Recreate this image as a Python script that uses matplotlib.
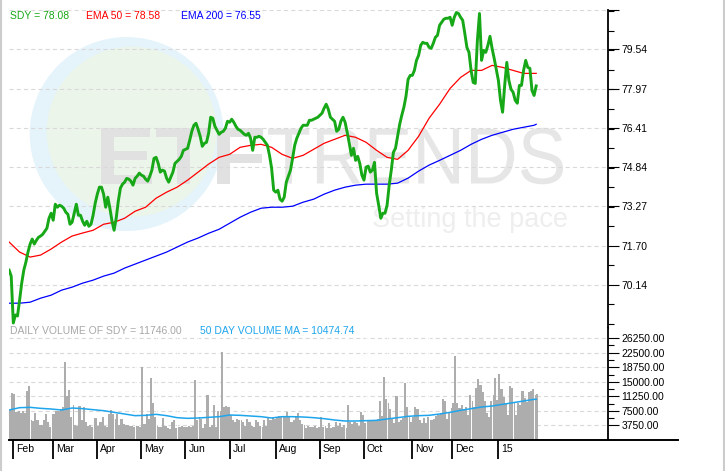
import numpy as np
import pandas as pd
import matplotlib
matplotlib.use('Agg')
import matplotlib.pyplot as plt
import matplotlib.transforms as mtransforms
from matplotlib.patches import Circle, PathPatch
from matplotlib.lines import Line2D
from matplotlib.textpath import TextPath
from matplotlib.font_manager import FontProperties
from matplotlib.ticker import AutoMinorLocator, FixedLocator

plt.rcParams['font.family'] = ['Liberation Sans', 'DejaVu Sans']
plt.rcParams['lines.scale_dashes'] = False

# trading days Jan 30 2014 .. Jan 29 2015
holidays = ['2014-02-17', '2014-04-18', '2014-05-26', '2014-07-04', '2014-09-01',
            '2014-11-27', '2014-12-25', '2015-01-01', '2015-01-19']
dates = pd.bdate_range('2014-01-30', '2015-01-29', freq='C', holidays=holidays)

sdy_close = [
    70.73, 70.49, 68.62, 68.94, 68.90, 69.53, 70.21, 70.73, 71.05, 71.45,
    71.77, 71.97, 71.77, 71.92, 72.04, 72.09, 72.16, 72.28, 72.40, 72.80,
    73.00, 72.72, 73.36, 73.24, 73.32, 73.28, 73.20, 73.04, 72.96, 72.56,
    72.64, 73.00, 73.36, 72.92, 72.92, 72.68, 72.52, 72.68, 72.48, 72.56,
    72.92, 73.40, 73.76, 74.04, 74.04, 73.76, 73.24, 73.64, 73.20, 72.68,
    72.32, 72.80, 73.48, 74.00, 74.16, 74.24, 74.39, 74.36, 74.28, 74.12,
    74.39, 74.48, 74.60, 74.52, 74.48, 74.36, 74.28, 74.48, 74.72, 75.19,
    75.23, 74.99, 74.64, 74.72, 74.68, 74.40, 74.24, 74.44, 74.64, 74.99,
    75.07, 75.15, 75.27, 75.51, 75.55, 75.59, 75.91, 76.27, 76.51, 76.59,
    76.35, 76.07, 75.67, 75.79, 75.83, 76.19, 76.83, 76.79, 76.47, 76.31,
    76.15, 76.23, 76.27, 76.39, 76.67, 76.63, 76.75, 76.63, 76.47, 76.35,
    76.31, 76.23, 76.15, 76.11, 76.19, 75.99, 75.51, 76.03, 76.03, 76.07,
    76.03, 75.95, 75.83, 75.71, 75.31, 74.80, 73.92, 73.84, 73.92, 73.56,
    73.48, 73.64, 74.24, 74.48, 74.72, 75.19, 75.71, 75.99, 76.19, 76.39,
    76.51, 76.51, 76.51, 76.71, 76.71, 76.75, 76.79, 76.83, 76.91, 76.99,
    77.19, 77.35, 77.15, 76.83, 76.75, 76.67, 76.27, 76.35, 76.67, 76.83,
    76.63, 76.23, 75.79, 75.31, 75.59, 75.11, 75.27, 74.99, 74.52, 74.32,
    74.84, 74.88, 74.64, 74.72, 75.03, 73.80, 73.32, 72.80, 73.00, 73.00,
    73.32, 74.12, 74.72, 75.43, 75.59, 76.07, 76.55, 76.91, 77.23, 77.67,
    78.34, 78.50, 78.50, 78.70, 79.10, 79.30, 79.70, 79.82, 79.78, 79.78,
    79.62, 79.58, 79.78, 80.02, 80.10, 80.50, 80.62, 80.74, 80.78, 80.78,
    80.82, 80.50, 80.82, 81.01, 80.97, 80.82, 80.70, 80.18, 79.62, 79.42,
    78.70, 78.22, 78.18, 79.90, 80.97, 79.10, 79.50, 79.42, 79.70, 80.06,
    79.58, 79.18, 78.74, 78.30, 77.51, 77.03, 78.10, 79.02, 78.30, 77.95,
    77.83, 77.51, 77.39, 78.10, 78.10, 78.70, 79.10, 78.82, 78.78, 77.90,
    77.70, 78.08]

# EMA values read every 5th trading day (plus last day)
ema_days = list(range(0, 251, 5)) + [251]
ema50 = [
    71.85, 71.45, 71.25, 71.33, 71.57, 71.85, 72.09, 72.21, 72.32, 72.56,
    72.64, 72.80, 73.08, 73.24, 73.60, 73.84, 74.04, 74.32, 74.64, 74.96,
    75.23, 75.35, 75.63, 75.71, 75.75, 75.63, 75.35, 75.19, 75.31, 75.55,
    75.79, 75.95, 76.11, 76.03, 75.83, 75.51, 75.23, 75.15, 75.51, 76.07,
    76.79, 77.35, 77.98, 78.42, 78.70, 78.70, 78.90, 78.82, 78.70, 78.58,
    78.58, 78.58]
ema200 = [
    69.41, 69.41, 69.45, 69.61, 69.73, 69.93, 70.05, 70.21, 70.33, 70.49,
    70.61, 70.81, 70.97, 71.13, 71.29, 71.45, 71.65, 71.85, 72.01, 72.20,
    72.36, 72.60, 72.84, 73.04, 73.20, 73.24, 73.24, 73.28, 73.44, 73.56,
    73.76, 73.92, 74.04, 74.12, 74.16, 74.16, 74.16, 74.20, 74.40, 74.68,
    74.92, 75.11, 75.31, 75.51, 75.75, 75.95, 76.11, 76.23, 76.35, 76.43,
    76.51, 76.55]

volume = [
    7730, 12200, 11850, 7300, 7470, 7040, 7560, 6870, 12710, 13920,
    5150, 4980, 7040, 5150, 3870, 3780, 5150, 6790, 4640, 3440,
    6700, 6700, 7390, 7560, 8080, 8420, 20190, 11340, 12890, 6010,
    9020, 3870, 3610, 8760, 5150, 8420, 4730, 3610, 3780, 3440,
    5760, 5580, 3610, 4730, 6010, 3610, 3440, 6610, 7730, 6700,
    5330, 6610, 3870, 5330, 4120, 3870, 3870, 3610, 3610, 3440,
    3610, 3610, 3440, 18900, 4120, 6700, 5330, 15890, 9620, 6010,
    3610, 3440, 3440, 5580, 3610, 3010, 2750, 4730, 5150, 3010,
    3440, 3440, 3610, 3260, 3440, 3610, 3440, 3610, 15460, 5150,
    5840, 5330, 3010, 4120, 11600, 3440, 3870, 9020, 3440, 7560,
    7560, 22760, 8420, 8760, 8420, 6440, 5150, 4730, 5330, 5150,
    5150, 4730, 3610, 5330, 4730, 3610, 3440, 5150, 4730, 3610,
    3440, 5150, 3610, 5840, 5150, 6010, 5330, 5840, 6190, 6010,
    5840, 6010, 7220, 6010, 4730, 5150, 6010, 7040, 5150, 4120,
    3780, 3010, 3610, 3440, 3260, 3610, 3010, 3260, 5840, 3440,
    3610, 3010, 4300, 3010, 3260, 4730, 3610, 4300, 3440, 3780,
    3010, 9020, 4730, 4120, 4730, 4300, 3610, 7300, 6440, 4300,
    4900, 4900, 5150, 4900, 4980, 5330, 10050, 6190, 16150, 10570,
    9620, 7900, 5580, 4470, 11340, 4730, 5150, 5580, 14600, 8420,
    6010, 4730, 6010, 8420, 7900, 5150, 4300, 5580, 4300, 6010,
    5150, 5150, 5330, 6190, 6440, 7040, 10480, 10140, 5330, 7300,
    8160, 9450, 21650, 9620, 8160, 9020, 7900, 8420, 6440, 11600,
    10140, 8420, 13320, 15630, 14170, 12460, 10140, 6870, 5840, 10140,
    11600, 15890, 10310, 17010, 13060, 11170, 9620, 6440, 13920, 13320,
    9450, 6440, 9450, 9020, 12710, 10740, 9880, 12460, 12710, 13060,
    11600, 11746]

vol_ma = [
    7731, 8332, 8418, 8161, 7989, 7731, 8246, 8075, 7817, 7559,
    7130, 6700, 6271, 6357, 6614, 6271, 5755, 5584, 5669, 5841,
    6013, 6443, 6357, 6185, 6013, 5669, 6013, 6013, 5927, 5755,
    5498, 5154, 4896, 4896, 4982, 5068, 5412, 5755, 6099, 6271,
    6357, 6700, 7130, 7645, 8075, 8504, 8762, 9191, 9621, 10050,
    10480, 10474.74]

price_ticks = [70.14, 71.70, 73.27, 74.84, 76.41, 77.97, 79.54, 81.11]
price_labels = ['70.14', '71.70', '73.27', '74.84', '76.41', '77.97', '79.54', '']
vol_ticks = [3750, 7500, 11250, 15000, 18750, 22500, 26250]

n = len(sdy_close)
days = np.arange(n)

W, H = 725, 471
fig = plt.figure(figsize=(W / 100, H / 100), dpi=100)


def fbox(x0, y0, x1, y1):
    return [x0 / W, 1 - y1 / H, (x1 - x0) / W, (y1 - y0) / H]


ax = fig.add_axes(fbox(9, 10, 608, 328))
axv = fig.add_axes(fbox(9, 328, 608, 440), sharex=ax)

grid_kw = dict(color='#d9d9d9', linestyle=(0, (3, 2.2)), linewidth=0.8)

# watermark logo (pixel boxes -> inches)
px = fig.dpi_scale_trans


def logo_text(s, weight, x0, x1, ytop, ybase, color):
    tp = TextPath((0, 0), s, size=50, prop=FontProperties(family='Liberation Sans', weight=weight))
    bb = tp.get_extents()
    sx = (x1 - x0) / bb.width
    sy = (ybase - ytop) / bb.height
    tr = mtransforms.Affine2D().translate(-bb.x0, 0).scale(sx / 100, sy / 100) \
        .translate(x0 / 100, (H - ybase) / 100) + px
    ax.add_patch(PathPatch(tp, transform=tr, facecolor=color, edgecolor='none', zorder=0.2))


ax.add_patch(Circle((126.7 / 100, (H - 134) / 100), 0.97, transform=px,
                    facecolor='#e5f3fb', edgecolor='none', zorder=0.1))
ax.add_patch(Circle((131.7 / 100, (H - 131.7) / 100), 0.85, transform=px,
                    facecolor='#ebf5e9', edgecolor='none', zorder=0.15))
logo_text('ETF', 'bold', 101, 263, 128, 183.5, '#e1e1e1')
logo_text('TRENDS', 'normal', 268, 563, 127, 183.5, '#e6e6e6')
ax.text(371.7 / 100, (H - 226.7) / 100, 'Setting the pace', transform=px,
        fontsize=19.5, color='#eeeeee', ha='left', va='baseline', zorder=0.2)

# price panel
ax.plot(days, sdy_close, color='#17a817', lw=2.1, zorder=5)
ax.plot(ema_days, ema50, color='#ff0000', lw=0.9, zorder=4)
ax.plot(ema_days, ema200, color='#0000ff', lw=0.9, zorder=4)
ax.set_xlim(-0.05, 285.2)
ax.set_ylim(68.42, 81.11)
ax.set_yticks(price_ticks)
ax.set_yticklabels(price_labels)
ax.yaxis.set_minor_locator(AutoMinorLocator(2))
ax.yaxis.tick_right()
ax.set_axisbelow(True)
ax.grid(axis='y', **grid_kw)
for s in ['left', 'top', 'bottom']:
    ax.spines[s].set_visible(False)
ax.spines['right'].set_linewidth(1.3)
ax.tick_params(axis='y', which='major', length=8, width=0.8, labelsize=7.5, pad=1.5)
ax.tick_params(axis='y', which='minor', length=4, width=0.8)
ax.tick_params(axis='x', bottom=False, labelbottom=False)

# volume panel
axv.bar(days, volume, width=1.0, align='edge', color='#adadad', linewidth=0, zorder=2)
for k in range(10, n, 10):
    axv.axvline(k, color='white', lw=0.7, zorder=2.5)
axv.plot(ema_days, vol_ma, color='#1ea5ec', lw=1.1, zorder=4)
axv.set_ylim(0, 28866)
axv.set_yticks(vol_ticks)
axv.set_yticklabels(['%.2f' % v for v in vol_ticks])
axv.yaxis.set_minor_locator(FixedLocator(
    [(a + b) / 2 for a, b in zip(vol_ticks[:-1], vol_ticks[1:])]))
axv.yaxis.tick_right()
axv.set_axisbelow(True)
axv.grid(axis='y', **grid_kw)
for s in ['left', 'top', 'bottom']:
    axv.spines[s].set_visible(False)
axv.spines['right'].set_linewidth(1.3)
axv.axhline(0, xmin=0, xmax=(678 - 9) / 599, color='black', lw=1.4, clip_on=False, zorder=6)
axv.tick_params(axis='y', which='major', length=8, width=0.8, labelsize=7.5, pad=1.5)
axv.tick_params(axis='y', which='minor', length=4, width=0.8)

# month ticks at first trading day of each month
month_pos = [i for i in range(1, n) if dates[i].month != dates[i - 1].month]
month_lab = [dates[i].strftime('%y') if dates[i].month == 1 else dates[i].strftime('%b')
             for i in month_pos]
axv.set_xticks(month_pos)
axv.tick_params(axis='x', which='major', length=13.7, width=1.3, direction='out',
                labelbottom=False)
lab_tr = mtransforms.blended_transform_factory(axv.transData, axv.transAxes) + \
    mtransforms.ScaledTranslation(0.03, -0.095, fig.dpi_scale_trans)
for p, lab in zip(month_pos, month_lab):
    axv.text(p, 0, lab, transform=lab_tr, ha='left', va='center', fontsize=7.5)

# header labels
fig.text(10.5 / W, 1 - 16 / H, 'SDY = %.2f' % sdy_close[-1], color='#17a817',
         fontsize=7.5, va='center')
fig.text(86.5 / W, 1 - 16 / H, 'EMA 50 = %.2f' % ema50[-1], color='#ff0000',
         fontsize=7.5, va='center')
fig.text(181 / W, 1 - 16 / H, 'EMA 200 = %.2f' % ema200[-1], color='#0000ff',
         fontsize=7.5, va='center')
fig.text(10.5 / W, 1 - 331.5 / H, 'DAILY VOLUME OF SDY = %.2f' % volume[-1],
         color='#a8a8a8', fontsize=7.5, va='center')
fig.text(200 / W, 1 - 331.5 / H, '50 DAY VOLUME MA = %.2f' % vol_ma[-1],
         color='#1ea5ec', fontsize=7.5, va='center')

# light frame edges
fig.add_artist(Line2D([1 / W, 1 / W], [0, 1], color='#cccccc', lw=1.5))
fig.add_artist(Line2D([723.5 / W, 723.5 / W], [0, 1], color='#cccccc', lw=1.5))

fig.savefig('out.png', dpi=100)
